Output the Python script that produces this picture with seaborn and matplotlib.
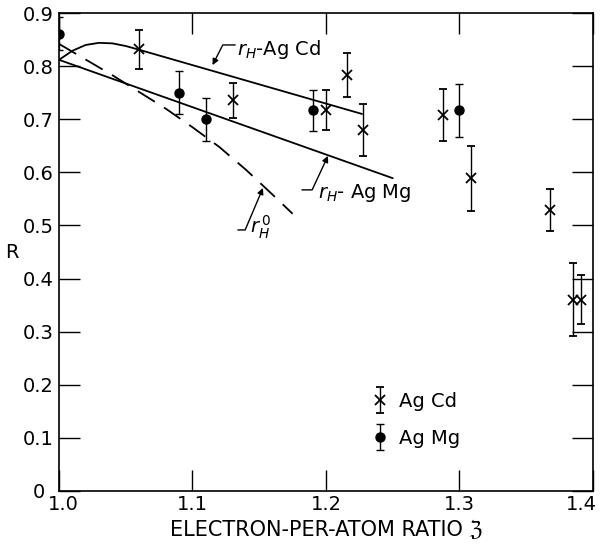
import numpy as np
import pandas as pd
import matplotlib
matplotlib.use("Agg")
import matplotlib.pyplot as plt
import matplotlib.transforms as mtransforms
import seaborn as sns
from matplotlib.legend_handler import HandlerErrorbar

# datos
cd_x = [1.06, 1.13, 1.20, 1.216, 1.228, 1.288, 1.309, 1.368, 1.385, 1.391]
cd_y = [0.832, 0.736, 0.717, 0.783, 0.680, 0.708, 0.589, 0.529, 0.360, 0.360]
cd_err = [0.037, 0.033, 0.038, 0.041, 0.049, 0.049, 0.061, 0.039, 0.069, 0.046]

mg_x = [1.00, 1.09, 1.11, 1.19, 1.30]
mg_y = [0.861, 0.750, 0.700, 0.717, 0.717]
mg_err = [0.031, 0.040, 0.040, 0.039, 0.050]

# curvas teoricas
rh_cd_x = [1.00, 1.01, 1.02, 1.03, 1.04, 1.05, 1.06, 1.227]
rh_cd_y = [0.812, 0.829, 0.840, 0.844, 0.843, 0.838, 0.831, 0.710]
rh_mg_x = [1.00, 1.25]
rh_mg_y = [0.812, 0.589]
rh0_x = [1.00, 1.04, 1.08, 1.10, 1.12, 1.14, 1.16, 1.175]
rh0_y = [0.842, 0.783, 0.720, 0.685, 0.648, 0.605, 0.558, 0.522]

xticks = [1.0, 1.1, 1.2, 1.3, 1.4]
xtick_labels = ["1.0", "1.1", "1.2", "1.3", "1.4"]
yticks = [0, 0.1, 0.2, 0.3, 0.4, 0.5, 0.6, 0.7, 0.8, 0.9]
ytick_labels = ["0", "0.1", "0.2", "0.3", "0.4", "0.5", "0.6", "0.7", "0.8", "0.9"]

sns.set_theme(style="ticks")
plt.rcParams['font.family'] = ['DejaVu Sans']
plt.rcParams['text.color'] = 'black'
plt.rcParams['axes.labelcolor'] = 'black'

fig = plt.figure(figsize=(6.02, 5.46), dpi=100)
ax = fig.add_axes([0.098, 0.101, 0.887, 0.875])

lineas = pd.concat([
    pd.DataFrame({"x": rh_cd_x, "y": rh_cd_y, "curva": "cd"}),
    pd.DataFrame({"x": rh_mg_x, "y": rh_mg_y, "curva": "mg"}),
])
sns.lineplot(data=lineas, x="x", y="y", units="curva", estimator=None,
             color="black", lw=1.3, sort=False, ax=ax)
sns.lineplot(x=rh0_x, y=rh0_y, color="black", lw=1.3, ax=ax,
             dashes=[(11, 6)], style=[0] * len(rh0_x), legend=False)

eb_cd = ax.errorbar(cd_x, cd_y, yerr=cd_err, fmt="x", color="black", ms=7,
                    mew=1.3, elinewidth=1, capsize=3, capthick=1)
eb_mg = ax.errorbar(mg_x, mg_y, yerr=mg_err, fmt="o", color="black", ms=6.5,
                    elinewidth=1, capsize=3, capthick=1)

ax.set_xlim(1.0, 1.4)
ax.set_ylim(0, 0.9)
ax.set_xticks(xticks)
ax.set_xticklabels(xtick_labels)
ax.set_yticks(yticks)
ax.set_yticklabels(ytick_labels)
ax.tick_params(direction="in", length=15, width=1, top=True, right=True,
               labelsize=14, colors="black")
ax.tick_params(axis="x", pad=3)
ax.tick_params(axis="y", pad=4)
for s in ax.spines.values():
    s.set_linewidth(1.2)
    s.set_color("black")

# pequeños ajustes de las etiquetas en las esquinas
def mover(lbl, dx, dy):
    lbl.set_transform(lbl.get_transform() +
                      mtransforms.ScaledTranslation(dx / 72, dy / 72, fig.dpi_scale_trans))

xl = ax.get_xticklabels()
mover(xl[0], 3, 0)
mover(xl[-1], -8, 0)
mover(ax.get_yticklabels()[0], -6, 0)

ax.set_xlabel("ELECTRON-PER-ATOM RATIO ℨ", fontsize=15, labelpad=4)
ax.set_ylabel("R", rotation=0, fontsize=14)
ax.yaxis.set_label_coords(-0.088, 0.48)

# etiquetas de las curvas
flecha = dict(arrowstyle="-|>", color="black", lw=1, mutation_scale=9,
              shrinkA=0, shrinkB=0)
ax.annotate("", xy=(1.115, 0.802), xytext=(1.132, 0.840),
            arrowprops=dict(flecha, connectionstyle="angle,angleA=0,angleB=63,rad=0"))
ax.text(1.133, 0.821, "$r_H$-Ag Cd", fontsize=14, va="baseline", ha="left")

ax.annotate("", xy=(1.2015, 0.631), xytext=(1.182, 0.567),
            arrowprops=dict(flecha, connectionstyle="angle,angleA=0,angleB=65,rad=0"))
ax.text(1.194, 0.552, "$r_H$- Ag Mg", fontsize=14, va="baseline", ha="left")

ax.annotate("", xy=(1.1528, 0.5706), xytext=(1.134, 0.4915),
            arrowprops=dict(flecha, connectionstyle="angle,angleA=0,angleB=67,rad=0"))
ax.text(1.143, 0.486, "$r_H^{\\,0}$", fontsize=14, va="baseline", ha="left")

ax.legend([eb_cd, eb_mg], ["Ag Cd", "Ag Mg"], loc="lower left",
          bbox_to_anchor=(0.553, 0.053), frameon=False, fontsize=14,
          handlelength=0.8, handletextpad=0.6, labelspacing=0.95,
          handler_map={type(eb_cd): HandlerErrorbar(yerr_size=0.67)})

plt.savefig("out.png", dpi=100)
